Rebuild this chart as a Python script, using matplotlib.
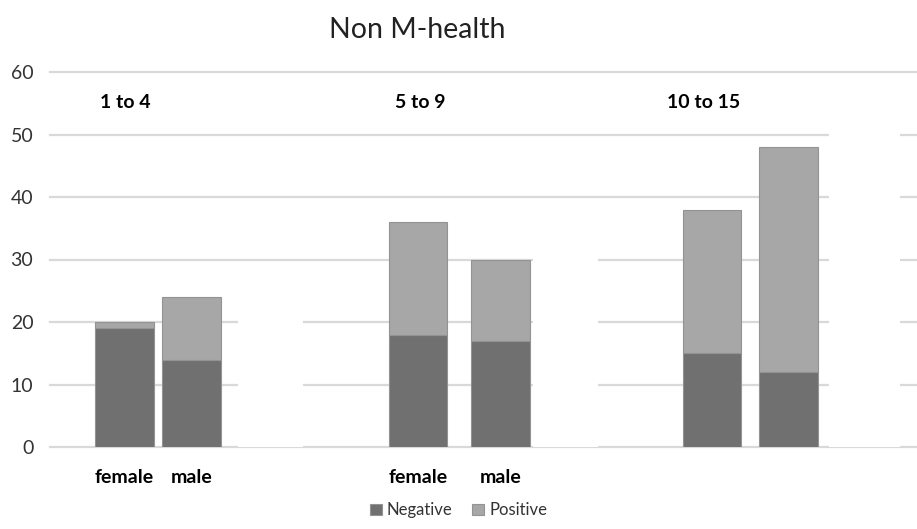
import matplotlib
matplotlib.use("Agg")
import matplotlib.pyplot as plt
from matplotlib.patches import Rectangle

plt.rcParams['font.family'] = ['Lato', 'DejaVu Sans']

groups = ['1 to 4', '5 to 9', '10 to 15']
sex_labels = ['female', 'male', 'female', 'male', '', '']
negative = [19, 14, 18, 17, 15, 12]
positive = [1, 10, 18, 13, 23, 36]

# layout: bar centres (in slot units) and group label centres
bar_x = [1.06, 2.02, 5.26, 6.44, 9.46, 10.55]
group_x = [1.07, 5.29, 9.34]
bar_w = 0.84
# white boxes that interrupt the gridlines: (x0, x1, top)
grid_gaps = [(2.69, 3.61, 25), (6.9, 7.83, 35), (11.13, 12.14, 55)]

neg_color = '#707070'
pos_color = '#a7a7a7'
edge_color = '#939393'

fig = plt.figure(figsize=(9.17, 5.29), dpi=100)
ax = fig.add_axes([50 / 917, (529 - 447) / 529, 867 / 917, 375 / 529])

for y in range(0, 61, 10):
    ax.axhline(y, color='#d9d9d9', lw=1.6, zorder=1, clip_on=False)
for x0, x1, top in grid_gaps:
    ax.add_patch(Rectangle((x0, -1), x1 - x0, top + 1, facecolor='white',
                           edgecolor='none', zorder=1.5))

ax.bar(bar_x, negative, bar_w, color=neg_color, edgecolor=edge_color,
       linewidth=0.8, label='Negative', zorder=2)
ax.bar(bar_x, positive, bar_w, bottom=negative, color=pos_color,
       edgecolor=edge_color, linewidth=0.8, label='Positive', zorder=2)

for gx, g in zip(group_x, groups):
    ax.text(gx, 55.1, g, ha='center', va='center', fontsize=14,
            fontweight='bold', color='black')

ax.set_xlim(0, 12.39)
ax.set_ylim(0, 60)
ax.set_yticks(range(0, 61, 10))
ax.set_xticks(bar_x)
ax.set_xticklabels(sex_labels, fontsize=14, fontweight='bold', color='black')
ax.tick_params(axis='y', length=0, pad=12, labelsize=14, labelcolor='#333333')
ax.tick_params(axis='x', length=0, pad=16)
for s in ax.spines.values():
    s.set_visible(False)

fig.text(0.455, 0.944, 'Non M-health', ha='center', va='center',
         fontsize=20.5, color='#222222')

fig.legend(loc='lower center', bbox_to_anchor=(0.5, -0.008), ncol=2,
           frameon=False, fontsize=12, handlelength=0.7, handleheight=0.7,
           handletextpad=0.3, columnspacing=1.2, labelcolor='#333333')

fig.savefig('out.png', dpi=100)
